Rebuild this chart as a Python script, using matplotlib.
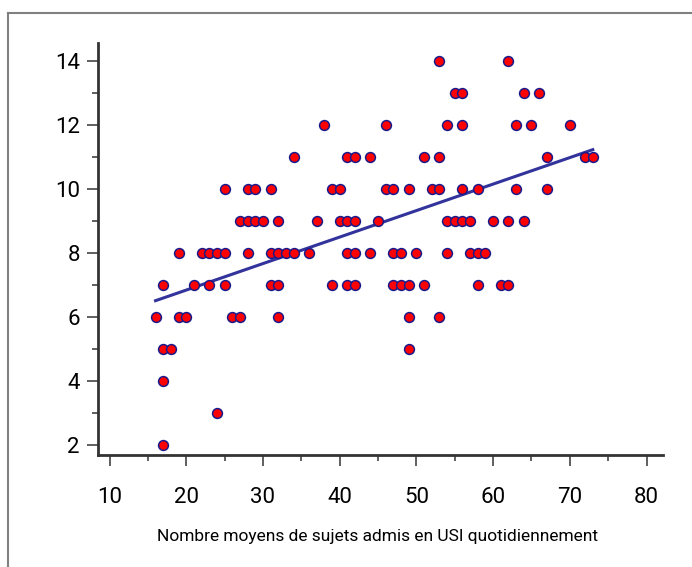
import numpy as np
import matplotlib
matplotlib.use('Agg')
import matplotlib.pyplot as plt
from matplotlib.lines import Line2D
from matplotlib.ticker import MultipleLocator

# nombre moyen de sujets admis en USI par jour (x) et valeur observee (y)
admis = [53, 62,
         55, 56, 64, 66,
         38, 46, 54, 56, 63, 65, 70,
         34, 41, 42, 44, 51, 53, 67, 72, 73,
         25, 28, 29, 31, 39, 40, 46, 47, 49, 52, 53, 56, 58, 63, 67,
         27, 28, 29, 30, 32, 37, 40, 41, 42, 45, 54, 55, 56, 57, 60, 62, 64,
         19, 22, 23, 24, 25, 28, 31, 32, 33, 34, 36, 41, 42, 44, 47, 48, 50, 54, 57, 58, 59,
         17, 21, 23, 25, 31, 32, 39, 41, 42, 47, 48, 49, 51, 58, 61, 62,
         16, 19, 20, 26, 27, 32, 49, 53,
         17, 18, 49,
         17,
         24,
         17]
valeurs = [14] * 2 + [13] * 4 + [12] * 7 + [11] * 9 + [10] * 15 + [9] * 17 + \
          [8] * 21 + [7] * 16 + [6] * 8 + [5] * 3 + [4] + [3] + [2]

x_ticks = [10, 20, 30, 40, 50, 60, 70, 80]
y_ticks = [2, 4, 6, 8, 10, 12, 14]
x_titre = 'Nombre moyens de sujets admis en USI quotidiennement'

plt.rcParams['font.family'] = ['Roboto', 'DejaVu Sans']
plt.rcParams['font.stretch'] = 'condensed'

fig = plt.figure(figsize=(6.92, 5.67), dpi=100)
ax = fig.add_axes([98 / 692, 112 / 567, 565 / 692, 412 / 567])

# droite de regression
a, b = np.polyfit(admis, valeurs, 1)
xr = np.array([min(admis), max(admis)])
ax.plot(xr, a * xr + b, color='#33339c', linewidth=2.2, zorder=2)

ax.scatter(admis, valeurs, s=50, c='#ff0000', edgecolors='#1a1a8a',
           linewidths=1.1, zorder=3)

ax.set_xlim(8.5, 82.15)
ax.set_ylim(1.69, 14.57)
ax.set_xticks(x_ticks)
ax.set_yticks(y_ticks)
ax.xaxis.set_minor_locator(MultipleLocator(5))
ax.yaxis.set_minor_locator(MultipleLocator(1))

ax.tick_params(which='both', direction='out', color='#444444', width=1.2,
               labelsize=16)
ax.tick_params(which='major', length=8)
ax.tick_params(which='minor', length=4)
ax.tick_params(axis='x', pad=15)
ax.tick_params(axis='y', pad=5)

ax.spines['top'].set_visible(False)
ax.spines['right'].set_visible(False)
ax.spines['left'].set_linewidth(2)
ax.spines['bottom'].set_linewidth(2)
ax.spines['left'].set_color('#333333')
ax.spines['bottom'].set_color('#333333')

ax.set_xlabel(x_titre, fontsize=12.5)
ax.xaxis.set_label_coords(0.494, -0.18)

# cadre gris autour de la figure
fig.add_artist(Line2D([8 / 692, 1], [1 - 13 / 567, 1 - 13 / 567],
                      color='#808080', linewidth=1.5, transform=fig.transFigure))
fig.add_artist(Line2D([8 / 692, 8 / 692], [0, 1 - 13 / 567],
                      color='#808080', linewidth=1.5, transform=fig.transFigure))

fig.savefig('out.png', dpi=100)
